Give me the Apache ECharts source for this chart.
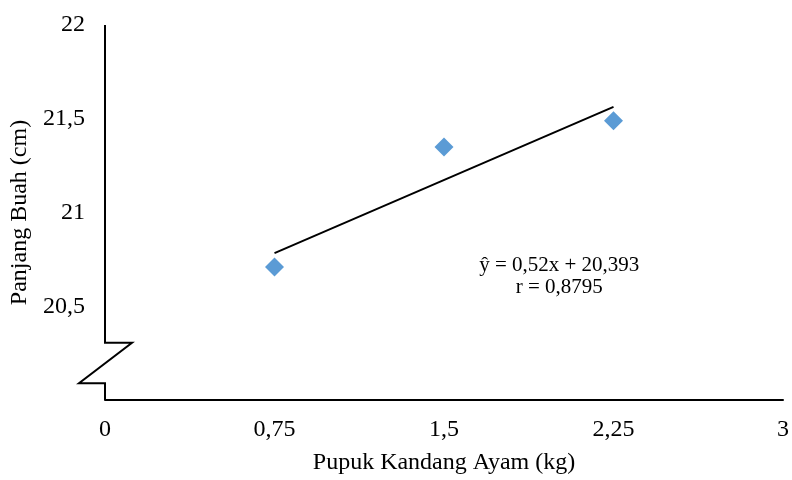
<!DOCTYPE html>
<html>
<head>
<meta charset="utf-8">
<script src="https://cdn.jsdelivr.net/npm/echarts@6/dist/echarts.min.js"></script>
<style>html,body{margin:0;padding:0;background:#fff}#c{width:792px;height:480px}</style>
</head>
<body>
<div id="c"></div>
<script>
const xValues = [0.75, 1.5, 2.25];
const yValues = [20.71, 21.35, 21.49];
const trendX = [0.75, 2.25];
const trendY = [20.783, 21.563];
const xTicks = [0, 0.75, 1.5, 2.25, 3];
const yTicks = [20.5, 21, 21.5, 22];
const eqLines = ['ŷ = 0,52x + 20,393', 'r = 0,8795'];
const xTitle = 'Pupuk Kandang Ayam (kg)';
const yTitle = 'Panjang Buah (cm)';

(function () {
const FONT = 'Liberation Serif';
const chart = echarts.init(document.getElementById('c'), null, {renderer: 'canvas'});
const fmt = v => String(v).replace('.', ',');

chart.setOption({
  animation: false,
  backgroundColor: '#fff',
  grid: {left: 105, right: 7, top: 25, bottom: 72},
  xAxis: {
    type: 'value', min: 0, max: 3, interval: 0.75,
    name: xTitle, nameLocation: 'middle', nameGap: 51,
    nameTextStyle: {fontFamily: FONT, fontSize: 24, color: '#000'},
    axisLine: {show: true, onZero: false, lineStyle: {color: '#000', width: 2}},
    axisTick: {show: false},
    splitLine: {show: false},
    axisLabel: {fontFamily: FONT, fontSize: 24, color: '#000', margin: 18,
      formatter: v => xTicks.includes(v) ? fmt(v) : ''}
  },
  yAxis: {
    type: 'value', min: 20, max: 22, interval: 0.5,
    name: yTitle, nameLocation: 'middle', nameGap: 66,
    nameTextStyle: {fontFamily: FONT, fontSize: 24, color: '#000'},
    axisLine: {show: false},
    axisTick: {show: false},
    splitLine: {show: false},
    axisLabel: {fontFamily: FONT, fontSize: 24, color: '#000', margin: 20,
      formatter: v => yTicks.includes(v) ? fmt(v) : ''}
  },
  series: [
    {
      type: 'line', data: trendX.map((x, i) => [x, trendY[i]]),
      showSymbol: false, symbol: 'none',
      lineStyle: {color: '#000', width: 2}, z: 2
    },
    {
      type: 'scatter', data: xValues.map((x, i) => [x, yValues[i]]),
      symbol: 'diamond', symbolSize: 19,
      itemStyle: {color: '#5B9BD5', opacity: 1}, z: 3
    }
  ]
});

const breakTop = 20.305, breakBot = 20.09;
const p = v => chart.convertToPixel({gridIndex: 0}, v);
const pTop = p([0, 22]), bTop = p([0, breakTop]), bBot = p([0, breakBot]), pBottom = p([0, 20]);
const eq = p([2.01, 20.72]);
chart.setOption({
  graphic: [
    {
      type: 'polyline', z: 10,
      shape: {points: [
        [pTop[0], pTop[1]], [bTop[0], bTop[1]], [bTop[0] + 27, bTop[1]],
        [bBot[0] - 26, bBot[1]], [bBot[0], bBot[1]], [pBottom[0], pBottom[1]]
      ]},
      style: {stroke: '#000', lineWidth: 2, fill: null}
    },
    {
      type: 'text', x: eq[0], y: eq[1], z: 10,
      style: {text: eqLines[0], fontFamily: FONT, fontSize: 21, fill: '#000', align: 'center', verticalAlign: 'middle'}
    },
    {
      type: 'text', x: eq[0], y: eq[1] + 22, z: 10,
      style: {text: eqLines[1], fontFamily: FONT, fontSize: 21, fill: '#000', align: 'center', verticalAlign: 'middle'}
    }
  ]
});
})();
</script>
</body>
</html>
